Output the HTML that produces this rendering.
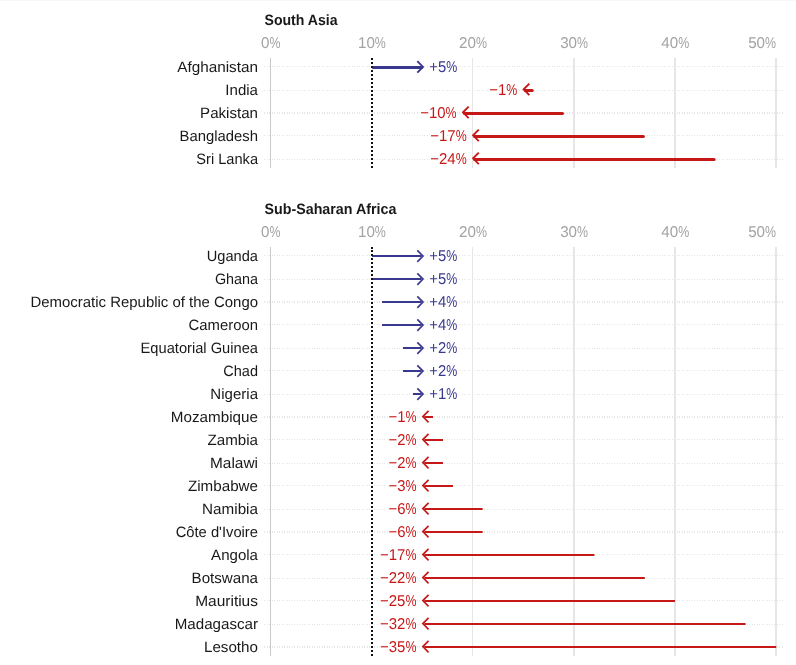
<!DOCTYPE html>
<html><head><meta charset="utf-8"><title>Arrow plot</title>
<style>
html,body{margin:0;padding:0;background:#fff;}
body{width:796px;height:665px;overflow:hidden;font-family:"Liberation Sans",sans-serif;}
svg{display:block}
text{font-family:"Liberation Sans",sans-serif;font-size:15px;text-rendering:geometricPrecision}
.t{font-weight:700;fill:#181818}
.ax{fill:#a3a3a3}
.lb{fill:#181818}
.vb{fill:#38398e}
.vr{fill:#c71818}
.ax,.vb,.vr{font-size:15.7px;text-rendering:geometricPrecision}
.vb,.vr{stroke:#fff;stroke-width:3;stroke-linejoin:round;paint-order:stroke fill}
</style></head><body>
<svg width="796" height="665" viewBox="0 0 796 665">
<rect x="0" y="0" width="796" height="1" fill="#f8f8f8"/>

<text class="t" x="264.50" y="25.00" textLength="73.09" lengthAdjust="spacingAndGlyphs">South Asia</text>
<text class="ax" transform="translate(0 48.00) scale(1 1.0)"><tspan x="261.09" textLength="8.44" lengthAdjust="spacingAndGlyphs">0</tspan><tspan x="269.53" textLength="11.00" lengthAdjust="spacingAndGlyphs">%</tspan></text>
<text class="ax" transform="translate(0 48.00) scale(1 1.0)"><tspan x="357.97" textLength="16.88" lengthAdjust="spacingAndGlyphs">10</tspan><tspan x="374.85" textLength="11.00" lengthAdjust="spacingAndGlyphs">%</tspan></text>
<text class="ax" transform="translate(0 48.00) scale(1 1.0)"><tspan x="459.07" textLength="16.88" lengthAdjust="spacingAndGlyphs">20</tspan><tspan x="475.95" textLength="11.00" lengthAdjust="spacingAndGlyphs">%</tspan></text>
<text class="ax" transform="translate(0 48.00) scale(1 1.0)"><tspan x="560.17" textLength="16.88" lengthAdjust="spacingAndGlyphs">30</tspan><tspan x="577.05" textLength="11.00" lengthAdjust="spacingAndGlyphs">%</tspan></text>
<text class="ax" transform="translate(0 48.00) scale(1 1.0)"><tspan x="661.27" textLength="16.88" lengthAdjust="spacingAndGlyphs">40</tspan><tspan x="678.15" textLength="11.00" lengthAdjust="spacingAndGlyphs">%</tspan></text>
<text class="ax" transform="translate(0 48.00) scale(1 1.0)"><tspan x="748.14" textLength="16.88" lengthAdjust="spacingAndGlyphs">50</tspan><tspan x="765.02" textLength="11.00" lengthAdjust="spacingAndGlyphs">%</tspan></text>
<line x1="264" x2="783" y1="66.5" y2="66.5" stroke="#e5e5e5" stroke-width="1" stroke-dasharray="1 2 1 1"/>
<line x1="264" x2="783" y1="90.5" y2="90.5" stroke="#e5e5e5" stroke-width="1" stroke-dasharray="1 2 1 1"/>
<line x1="264" x2="783" y1="113.0" y2="113.0" stroke="#e7e7e7" stroke-width="2" stroke-dasharray="1 2 1 1"/>
<line x1="264" x2="783" y1="135.5" y2="135.5" stroke="#e5e5e5" stroke-width="1" stroke-dasharray="1 2 1 1"/>
<line x1="264" x2="783" y1="159.5" y2="159.5" stroke="#e5e5e5" stroke-width="1" stroke-dasharray="1 2 1 1"/>
<rect x="472" y="58" width="1" height="110" fill="#e6e6e6"/>
<rect x="573" y="58" width="2" height="110" fill="#e6e6e6"/>
<rect x="674" y="58" width="2" height="110" fill="#e6e6e6"/>
<rect x="775" y="58" width="2" height="110" fill="#e6e6e6"/>
<rect x="270" y="58" width="1" height="110" fill="#c9c9c9"/>
<text class="lb" x="177.30" y="71.80" textLength="80.70" lengthAdjust="spacingAndGlyphs">Afghanistan</text>
<g fill="none" stroke="#38398e"><path stroke-width="3.0" stroke-linecap="round" d="M373.40 67.50H421.50"/><path stroke-width="1.9" d="M417.30 61.20L423.00 66.90L417.30 72.60"/></g>
<text class="vb" transform="translate(0 71.80) scale(1 1.0)"><tspan x="429.30" textLength="16.95" lengthAdjust="spacingAndGlyphs">+5</tspan><tspan x="446.25" textLength="11.00" lengthAdjust="spacingAndGlyphs">%</tspan></text>
<text class="lb" x="225.36" y="94.80" textLength="32.64" lengthAdjust="spacingAndGlyphs">India</text>
<g fill="none" stroke="#c71818"><path stroke-width="3.0" stroke-linecap="round" d="M532.16 90.50H525.15"/><path stroke-width="1.9" d="M529.35 83.65L523.65 89.35L529.35 95.05"/></g>
<text class="vr" transform="translate(0 94.80) scale(1 1.0)"><tspan x="489.25" textLength="17.02" lengthAdjust="spacingAndGlyphs">−1</tspan><tspan x="506.27" textLength="11.00" lengthAdjust="spacingAndGlyphs">%</tspan></text>
<text class="lb" x="200.11" y="117.80" textLength="57.89" lengthAdjust="spacingAndGlyphs">Pakistan</text>
<g fill="none" stroke="#c71818"><path stroke-width="3.0" stroke-linecap="round" d="M562.49 113.50H464.49"/><path stroke-width="1.9" d="M468.69 106.65L462.99 112.35L468.69 118.05"/></g>
<text class="vr" transform="translate(0 117.80) scale(1 1.0)"><tspan x="420.15" textLength="25.44" lengthAdjust="spacingAndGlyphs">−10</tspan><tspan x="445.59" textLength="11.00" lengthAdjust="spacingAndGlyphs">%</tspan></text>
<text class="lb" x="179.56" y="140.80" textLength="78.44" lengthAdjust="spacingAndGlyphs">Bangladesh</text>
<g fill="none" stroke="#c71818"><path stroke-width="3.0" stroke-linecap="round" d="M643.37 136.50H474.60"/><path stroke-width="1.9" d="M478.80 129.65L473.10 135.35L478.80 141.05"/></g>
<text class="vr" transform="translate(0 140.80) scale(1 1.0)"><tspan x="430.26" textLength="25.44" lengthAdjust="spacingAndGlyphs">−17</tspan><tspan x="455.70" textLength="11.00" lengthAdjust="spacingAndGlyphs">%</tspan></text>
<text class="lb" x="196.36" y="163.80" textLength="61.64" lengthAdjust="spacingAndGlyphs">Sri Lanka</text>
<g fill="none" stroke="#c71818"><path stroke-width="3.0" stroke-linecap="round" d="M714.14 159.50H474.60"/><path stroke-width="1.9" d="M478.80 152.65L473.10 158.35L478.80 164.05"/></g>
<text class="vr" transform="translate(0 163.80) scale(1 1.0)"><tspan x="430.26" textLength="25.44" lengthAdjust="spacingAndGlyphs">−24</tspan><tspan x="455.70" textLength="11.00" lengthAdjust="spacingAndGlyphs">%</tspan></text>
<text class="t" x="264.50" y="214.00" textLength="131.84" lengthAdjust="spacingAndGlyphs">Sub-Saharan Africa</text>
<text class="ax" transform="translate(0 237.00) scale(1 1.0)"><tspan x="261.09" textLength="8.44" lengthAdjust="spacingAndGlyphs">0</tspan><tspan x="269.53" textLength="11.00" lengthAdjust="spacingAndGlyphs">%</tspan></text>
<text class="ax" transform="translate(0 237.00) scale(1 1.0)"><tspan x="357.97" textLength="16.88" lengthAdjust="spacingAndGlyphs">10</tspan><tspan x="374.85" textLength="11.00" lengthAdjust="spacingAndGlyphs">%</tspan></text>
<text class="ax" transform="translate(0 237.00) scale(1 1.0)"><tspan x="459.07" textLength="16.88" lengthAdjust="spacingAndGlyphs">20</tspan><tspan x="475.95" textLength="11.00" lengthAdjust="spacingAndGlyphs">%</tspan></text>
<text class="ax" transform="translate(0 237.00) scale(1 1.0)"><tspan x="560.17" textLength="16.88" lengthAdjust="spacingAndGlyphs">30</tspan><tspan x="577.05" textLength="11.00" lengthAdjust="spacingAndGlyphs">%</tspan></text>
<text class="ax" transform="translate(0 237.00) scale(1 1.0)"><tspan x="661.27" textLength="16.88" lengthAdjust="spacingAndGlyphs">40</tspan><tspan x="678.15" textLength="11.00" lengthAdjust="spacingAndGlyphs">%</tspan></text>
<text class="ax" transform="translate(0 237.00) scale(1 1.0)"><tspan x="748.14" textLength="16.88" lengthAdjust="spacingAndGlyphs">50</tspan><tspan x="765.02" textLength="11.00" lengthAdjust="spacingAndGlyphs">%</tspan></text>
<line x1="264" x2="783" y1="255.5" y2="255.5" stroke="#e5e5e5" stroke-width="1" stroke-dasharray="1 2 1 1"/>
<line x1="264" x2="783" y1="279.5" y2="279.5" stroke="#e5e5e5" stroke-width="1" stroke-dasharray="1 2 1 1"/>
<line x1="264" x2="783" y1="302.0" y2="302.0" stroke="#e7e7e7" stroke-width="2" stroke-dasharray="1 2 1 1"/>
<line x1="264" x2="783" y1="324.5" y2="324.5" stroke="#e5e5e5" stroke-width="1" stroke-dasharray="1 2 1 1"/>
<line x1="264" x2="783" y1="348.5" y2="348.5" stroke="#e5e5e5" stroke-width="1" stroke-dasharray="1 2 1 1"/>
<line x1="264" x2="783" y1="370.5" y2="370.5" stroke="#e5e5e5" stroke-width="1" stroke-dasharray="1 2 1 1"/>
<line x1="264" x2="783" y1="394.5" y2="394.5" stroke="#e5e5e5" stroke-width="1" stroke-dasharray="1 2 1 1"/>
<line x1="264" x2="783" y1="417.0" y2="417.0" stroke="#e7e7e7" stroke-width="2" stroke-dasharray="1 2 1 1"/>
<line x1="264" x2="783" y1="439.5" y2="439.5" stroke="#e5e5e5" stroke-width="1" stroke-dasharray="1 2 1 1"/>
<line x1="264" x2="783" y1="463.5" y2="463.5" stroke="#e5e5e5" stroke-width="1" stroke-dasharray="1 2 1 1"/>
<line x1="264" x2="783" y1="485.5" y2="485.5" stroke="#e5e5e5" stroke-width="1" stroke-dasharray="1 2 1 1"/>
<line x1="264" x2="783" y1="509.5" y2="509.5" stroke="#e5e5e5" stroke-width="1" stroke-dasharray="1 2 1 1"/>
<line x1="264" x2="783" y1="532.0" y2="532.0" stroke="#e7e7e7" stroke-width="2" stroke-dasharray="1 2 1 1"/>
<line x1="264" x2="783" y1="554.5" y2="554.5" stroke="#e5e5e5" stroke-width="1" stroke-dasharray="1 2 1 1"/>
<line x1="264" x2="783" y1="578.5" y2="578.5" stroke="#e5e5e5" stroke-width="1" stroke-dasharray="1 2 1 1"/>
<line x1="264" x2="783" y1="600.5" y2="600.5" stroke="#e5e5e5" stroke-width="1" stroke-dasharray="1 2 1 1"/>
<line x1="264" x2="783" y1="624.5" y2="624.5" stroke="#e5e5e5" stroke-width="1" stroke-dasharray="1 2 1 1"/>
<line x1="264" x2="783" y1="647.0" y2="647.0" stroke="#e7e7e7" stroke-width="2" stroke-dasharray="1 2 1 1"/>
<rect x="472" y="247" width="1" height="409" fill="#e6e6e6"/>
<rect x="573" y="247" width="2" height="409" fill="#e6e6e6"/>
<rect x="674" y="247" width="2" height="409" fill="#e6e6e6"/>
<rect x="775" y="247" width="2" height="409" fill="#e6e6e6"/>
<rect x="270" y="247" width="1" height="409" fill="#c9c9c9"/>
<text class="lb" x="206.78" y="261.40" textLength="51.22" lengthAdjust="spacingAndGlyphs">Uganda</text>
<g fill="none" stroke="#38398e"><path stroke-width="2.0" stroke-linecap="butt" d="M372.00 256.00H421.50"/><path stroke-width="1.65" d="M417.30 250.40L423.00 256.10L417.30 261.80"/></g>
<text class="vb" transform="translate(0 261.40) scale(1 1.0)"><tspan x="429.30" textLength="16.95" lengthAdjust="spacingAndGlyphs">+5</tspan><tspan x="446.25" textLength="11.00" lengthAdjust="spacingAndGlyphs">%</tspan></text>
<text class="lb" x="214.91" y="284.40" textLength="43.09" lengthAdjust="spacingAndGlyphs">Ghana</text>
<g fill="none" stroke="#38398e"><path stroke-width="2.0" stroke-linecap="butt" d="M372.00 279.00H421.50"/><path stroke-width="1.65" d="M417.30 273.40L423.00 279.10L417.30 284.80"/></g>
<text class="vb" transform="translate(0 284.40) scale(1 1.0)"><tspan x="429.30" textLength="16.95" lengthAdjust="spacingAndGlyphs">+5</tspan><tspan x="446.25" textLength="11.00" lengthAdjust="spacingAndGlyphs">%</tspan></text>
<text class="lb" x="30.47" y="307.40" textLength="227.53" lengthAdjust="spacingAndGlyphs">Democratic Republic of the Congo</text>
<g fill="none" stroke="#38398e"><path stroke-width="2.0" stroke-linecap="butt" d="M382.00 302.00H421.50"/><path stroke-width="1.65" d="M417.30 296.40L423.00 302.10L417.30 307.80"/></g>
<text class="vb" transform="translate(0 307.40) scale(1 1.0)"><tspan x="429.30" textLength="16.95" lengthAdjust="spacingAndGlyphs">+4</tspan><tspan x="446.25" textLength="11.00" lengthAdjust="spacingAndGlyphs">%</tspan></text>
<text class="lb" x="188.62" y="330.40" textLength="69.38" lengthAdjust="spacingAndGlyphs">Cameroon</text>
<g fill="none" stroke="#38398e"><path stroke-width="2.0" stroke-linecap="butt" d="M382.00 325.00H421.50"/><path stroke-width="1.65" d="M417.30 319.40L423.00 325.10L417.30 330.80"/></g>
<text class="vb" transform="translate(0 330.40) scale(1 1.0)"><tspan x="429.30" textLength="16.95" lengthAdjust="spacingAndGlyphs">+4</tspan><tspan x="446.25" textLength="11.00" lengthAdjust="spacingAndGlyphs">%</tspan></text>
<text class="lb" x="140.55" y="353.40" textLength="117.45" lengthAdjust="spacingAndGlyphs">Equatorial Guinea</text>
<g fill="none" stroke="#38398e"><path stroke-width="2.0" stroke-linecap="butt" d="M403.00 348.00H421.50"/><path stroke-width="1.65" d="M417.30 342.40L423.00 348.10L417.30 353.80"/></g>
<text class="vb" transform="translate(0 353.40) scale(1 1.0)"><tspan x="429.30" textLength="16.95" lengthAdjust="spacingAndGlyphs">+2</tspan><tspan x="446.25" textLength="11.00" lengthAdjust="spacingAndGlyphs">%</tspan></text>
<text class="lb" x="223.34" y="376.40" textLength="34.66" lengthAdjust="spacingAndGlyphs">Chad</text>
<g fill="none" stroke="#38398e"><path stroke-width="2.0" stroke-linecap="butt" d="M403.00 371.00H421.50"/><path stroke-width="1.65" d="M417.30 365.40L423.00 371.10L417.30 376.80"/></g>
<text class="vb" transform="translate(0 376.40) scale(1 1.0)"><tspan x="429.30" textLength="16.95" lengthAdjust="spacingAndGlyphs">+2</tspan><tspan x="446.25" textLength="11.00" lengthAdjust="spacingAndGlyphs">%</tspan></text>
<text class="lb" x="210.38" y="399.40" textLength="47.62" lengthAdjust="spacingAndGlyphs">Nigeria</text>
<g fill="none" stroke="#38398e"><path stroke-width="2.0" stroke-linecap="butt" d="M413.00 394.00H421.50"/><path stroke-width="1.65" d="M417.30 388.40L423.00 394.10L417.30 399.80"/></g>
<text class="vb" transform="translate(0 399.40) scale(1 1.0)"><tspan x="429.30" textLength="16.95" lengthAdjust="spacingAndGlyphs">+1</tspan><tspan x="446.25" textLength="11.00" lengthAdjust="spacingAndGlyphs">%</tspan></text>
<text class="lb" x="170.89" y="422.40" textLength="87.11" lengthAdjust="spacingAndGlyphs">Mozambique</text>
<g fill="none" stroke="#c71818"><path stroke-width="2.0" stroke-linecap="butt" d="M433.00 417.00H424.35"/><path stroke-width="1.65" d="M428.55 410.90L422.85 416.60L428.55 422.30"/></g>
<text class="vr" transform="translate(0 422.40) scale(1 1.0)"><tspan x="388.45" textLength="17.02" lengthAdjust="spacingAndGlyphs">−1</tspan><tspan x="405.47" textLength="11.00" lengthAdjust="spacingAndGlyphs">%</tspan></text>
<text class="lb" x="207.47" y="445.40" textLength="50.53" lengthAdjust="spacingAndGlyphs">Zambia</text>
<g fill="none" stroke="#c71818"><path stroke-width="2.0" stroke-linecap="butt" d="M443.00 440.00H424.35"/><path stroke-width="1.65" d="M428.55 433.90L422.85 439.60L428.55 445.30"/></g>
<text class="vr" transform="translate(0 445.40) scale(1 1.0)"><tspan x="388.45" textLength="17.02" lengthAdjust="spacingAndGlyphs">−2</tspan><tspan x="405.47" textLength="11.00" lengthAdjust="spacingAndGlyphs">%</tspan></text>
<text class="lb" x="210.02" y="468.40" textLength="47.98" lengthAdjust="spacingAndGlyphs">Malawi</text>
<g fill="none" stroke="#c71818"><path stroke-width="2.0" stroke-linecap="butt" d="M443.00 463.00H424.35"/><path stroke-width="1.65" d="M428.55 456.90L422.85 462.60L428.55 468.30"/></g>
<text class="vr" transform="translate(0 468.40) scale(1 1.0)"><tspan x="388.45" textLength="17.02" lengthAdjust="spacingAndGlyphs">−2</tspan><tspan x="405.47" textLength="11.00" lengthAdjust="spacingAndGlyphs">%</tspan></text>
<text class="lb" x="187.97" y="491.40" textLength="70.03" lengthAdjust="spacingAndGlyphs">Zimbabwe</text>
<g fill="none" stroke="#c71818"><path stroke-width="2.0" stroke-linecap="butt" d="M453.00 486.00H424.35"/><path stroke-width="1.65" d="M428.55 479.90L422.85 485.60L428.55 491.30"/></g>
<text class="vr" transform="translate(0 491.40) scale(1 1.0)"><tspan x="388.45" textLength="17.02" lengthAdjust="spacingAndGlyphs">−3</tspan><tspan x="405.47" textLength="11.00" lengthAdjust="spacingAndGlyphs">%</tspan></text>
<text class="lb" x="202.09" y="514.40" textLength="55.91" lengthAdjust="spacingAndGlyphs">Namibia</text>
<g fill="none" stroke="#c71818"><path stroke-width="2.0" stroke-linecap="butt" d="M482.60 509.00H424.35"/><path stroke-width="1.65" d="M428.55 502.90L422.85 508.60L428.55 514.30"/></g>
<text class="vr" transform="translate(0 514.40) scale(1 1.0)"><tspan x="388.45" textLength="17.02" lengthAdjust="spacingAndGlyphs">−6</tspan><tspan x="405.47" textLength="11.00" lengthAdjust="spacingAndGlyphs">%</tspan></text>
<text class="lb" x="175.67" y="537.40" textLength="82.33" lengthAdjust="spacingAndGlyphs">Côte d'Ivoire</text>
<g fill="none" stroke="#c71818"><path stroke-width="2.0" stroke-linecap="butt" d="M482.60 532.00H424.35"/><path stroke-width="1.65" d="M428.55 525.90L422.85 531.60L428.55 537.30"/></g>
<text class="vr" transform="translate(0 537.40) scale(1 1.0)"><tspan x="388.45" textLength="17.02" lengthAdjust="spacingAndGlyphs">−6</tspan><tspan x="405.47" textLength="11.00" lengthAdjust="spacingAndGlyphs">%</tspan></text>
<text class="lb" x="211.14" y="560.40" textLength="46.86" lengthAdjust="spacingAndGlyphs">Angola</text>
<g fill="none" stroke="#c71818"><path stroke-width="2.0" stroke-linecap="butt" d="M594.40 555.00H424.35"/><path stroke-width="1.65" d="M428.55 548.90L422.85 554.60L428.55 560.30"/></g>
<text class="vr" transform="translate(0 560.40) scale(1 1.0)"><tspan x="380.01" textLength="25.44" lengthAdjust="spacingAndGlyphs">−17</tspan><tspan x="405.45" textLength="11.00" lengthAdjust="spacingAndGlyphs">%</tspan></text>
<text class="lb" x="191.56" y="583.40" textLength="66.44" lengthAdjust="spacingAndGlyphs">Botswana</text>
<g fill="none" stroke="#c71818"><path stroke-width="2.0" stroke-linecap="butt" d="M644.80 578.00H424.35"/><path stroke-width="1.65" d="M428.55 571.90L422.85 577.60L428.55 583.30"/></g>
<text class="vr" transform="translate(0 583.40) scale(1 1.0)"><tspan x="380.01" textLength="25.44" lengthAdjust="spacingAndGlyphs">−22</tspan><tspan x="405.45" textLength="11.00" lengthAdjust="spacingAndGlyphs">%</tspan></text>
<text class="lb" x="195.17" y="606.40" textLength="62.83" lengthAdjust="spacingAndGlyphs">Mauritius</text>
<g fill="none" stroke="#c71818"><path stroke-width="2.0" stroke-linecap="butt" d="M675.00 601.00H424.35"/><path stroke-width="1.65" d="M428.55 594.90L422.85 600.60L428.55 606.30"/></g>
<text class="vr" transform="translate(0 606.40) scale(1 1.0)"><tspan x="380.01" textLength="25.44" lengthAdjust="spacingAndGlyphs">−25</tspan><tspan x="405.45" textLength="11.00" lengthAdjust="spacingAndGlyphs">%</tspan></text>
<text class="lb" x="174.70" y="629.40" textLength="83.30" lengthAdjust="spacingAndGlyphs">Madagascar</text>
<g fill="none" stroke="#c71818"><path stroke-width="2.0" stroke-linecap="butt" d="M745.60 624.00H424.35"/><path stroke-width="1.65" d="M428.55 617.90L422.85 623.60L428.55 629.30"/></g>
<text class="vr" transform="translate(0 629.40) scale(1 1.0)"><tspan x="380.01" textLength="25.44" lengthAdjust="spacingAndGlyphs">−32</tspan><tspan x="405.45" textLength="11.00" lengthAdjust="spacingAndGlyphs">%</tspan></text>
<text class="lb" x="203.94" y="652.40" textLength="54.06" lengthAdjust="spacingAndGlyphs">Lesotho</text>
<g fill="none" stroke="#c71818"><path stroke-width="2.0" stroke-linecap="butt" d="M776.20 647.00H424.35"/><path stroke-width="1.65" d="M428.55 640.90L422.85 646.60L428.55 652.30"/></g>
<text class="vr" transform="translate(0 652.40) scale(1 1.0)"><tspan x="380.01" textLength="25.44" lengthAdjust="spacingAndGlyphs">−35</tspan><tspan x="405.45" textLength="11.00" lengthAdjust="spacingAndGlyphs">%</tspan></text>
<line x1="372" x2="372" y1="58" y2="168" stroke="#111" stroke-width="2" stroke-dasharray="2 2"/>
<rect x="371" y="247" width="2" height="2" fill="#111"/>
<line x1="372" x2="372" y1="250" y2="656" stroke="#111" stroke-width="2" stroke-dasharray="2 2"/>
</svg></body></html>
